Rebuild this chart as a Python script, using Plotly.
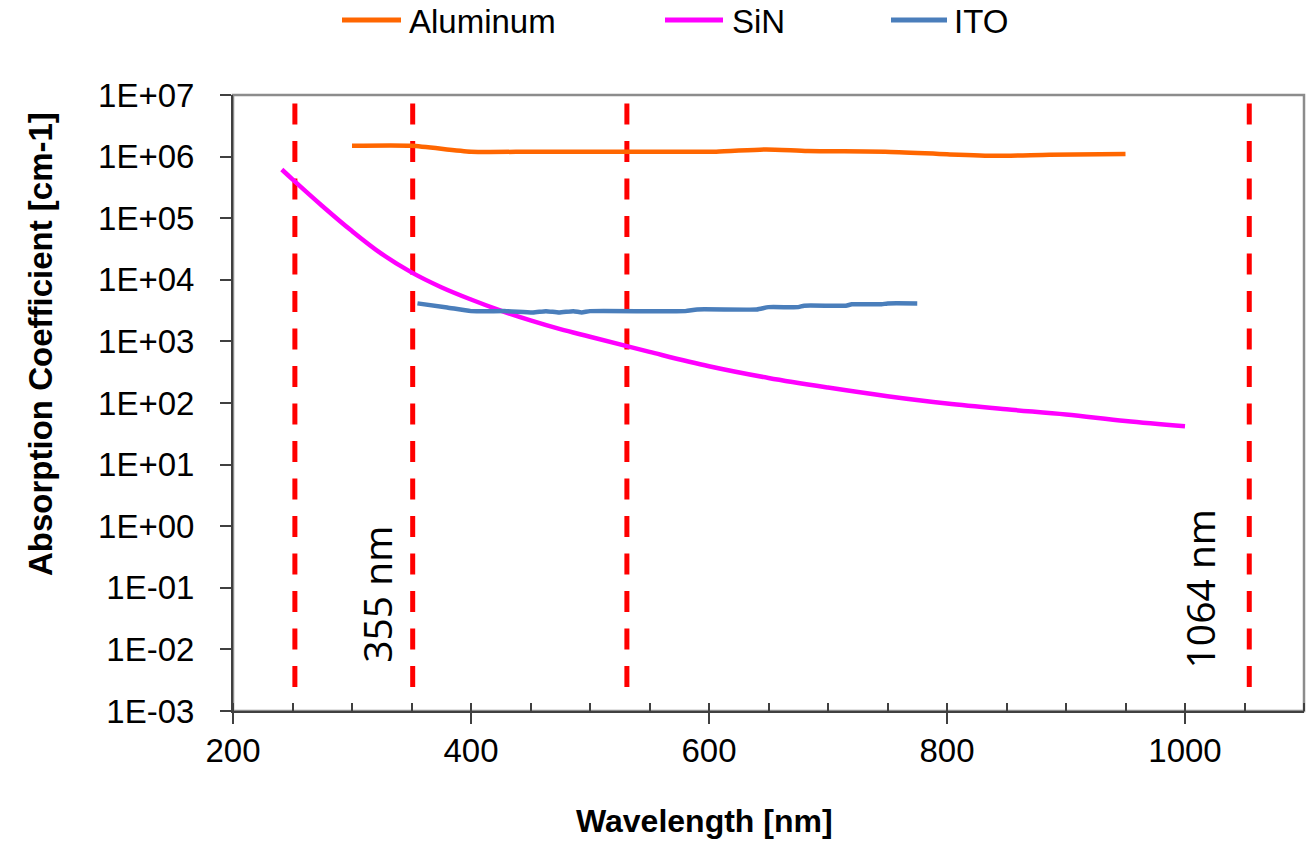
import math
import plotly.graph_objects as go

# ---------------- data ----------------
al_wl = [300, 350, 400, 450, 500, 550, 606, 648, 683, 748, 800, 841, 886, 950]
al_abs = [1.5e6, 1.5e6, 1.2e6, 1.2e6, 1.2e6, 1.2e6, 1.2e6, 1.31e6, 1.23e6, 1.2e6, 1.09e6, 1.03e6, 1.07e6, 1.1e6]

sin_wl = [241, 250, 275, 300, 325, 350, 375, 400, 425, 450, 475, 500, 550, 600, 650, 700,
          750, 800, 850, 900, 950, 1000]
sin_abs = [6.17e5, 4.27e5, 1.58e5, 6.17e4, 2.63e4, 1.32e4, 7.59e3, 4.79e3, 3.16e3, 2.19e3, 1.58e3, 1.19e3,
           676, 395, 255, 178, 129, 98, 79, 65, 51, 42]

ito_wl = [355, 380, 400, 430, 452, 463, 474, 486, 493, 500, 580, 590, 640, 650, 675, 680, 715, 720, 745, 750, 775]
ito_abs = [4.14e3, 3.56e3, 3.1e3, 3.1e3, 2.95e3, 3.1e3, 2.95e3, 3.1e3, 2.95e3, 3.1e3, 3.1e3, 3.3e3, 3.3e3,
           3.6e3, 3.6e3, 3.8e3, 3.8e3, 4.0e3, 4.0e3, 4.14e3, 4.14e3]

laser_wl = [252, 351, 531, 1054]
laser_top = 7.3e6
laser_bottom = 1.5e-3

series_names = ["Aluminum", "SiN", "ITO"]
series_colors = ["#FF6600", "#FF00FF", "#4A7EBB"]
series_smoothing = [0.6, 1.0, 0.5]

y_tickvals = [1e-3, 1e-2, 1e-1, 1e0, 1e1, 1e2, 1e3, 1e4, 1e5, 1e6, 1e7]
y_ticktext = ["1E-03", "1E-02", "1E-01", "1E+00", "1E+01", "1E+02", "1E+03", "1E+04", "1E+05", "1E+06", "1E+07"]
x_tickvals = [200, 400, 600, 800, 1000]

label_texts = ["355 nm", "1064 nm"]
label_x = [321, 1012]
label_y = [0.08, 0.095]  # in data units (log axis value)

FONT = "Liberation Sans, Arial, sans-serif"

fig = go.Figure()

# red dashed laser-wavelength lines
for wl in laser_wl:
    fig.add_trace(go.Scatter(
        x=[wl, wl], y=[laser_top, laser_bottom], mode="lines",
        line=dict(color="#FF0000", width=5, dash="21px,16.5px"),
        showlegend=False, hoverinfo="skip"))

for name, wl, ab, col, sm in zip(series_names, [al_wl, sin_wl, ito_wl], [al_abs, sin_abs, ito_abs],
                                 series_colors, series_smoothing):
    fig.add_trace(go.Scatter(
        x=wl, y=ab, mode="lines", name=name,
        line=dict(color=col, width=4.5, shape="spline", smoothing=sm),
        showlegend=False))

# plot frame (top/right grey)
fig.add_shape(type="rect", xref="paper", yref="paper", x0=0, x1=1, y0=0, y1=1,
              line=dict(color="#8C8C8C", width=2.5), layer="below")

# custom legend at top
plot_l, plot_r, plot_t, plot_b = 233, 1304, 95, 711
def px_x(p):
    return (p - plot_l) / (plot_r - plot_l)
def px_y(p):
    return (plot_b - p) / (plot_b - plot_t)

legend_line_px = [(342, 401), (665, 723), (891, 947)]
legend_text_px = [407, 730, 952]
for (a, b), tx, name, col in zip(legend_line_px, legend_text_px, series_names, series_colors):
    fig.add_shape(type="line", xref="paper", yref="paper", x0=px_x(a), x1=px_x(b),
                  y0=px_y(20), y1=px_y(20), line=dict(color=col, width=5))
    fig.add_annotation(xref="paper", yref="paper", x=px_x(tx), y=px_y(21), text=name,
                       showarrow=False, xanchor="left", yanchor="middle",
                       font=dict(family=FONT, size=33, color="#000000"))

# wavelength labels
for t, x, y in zip(label_texts, label_x, label_y):
    fig.add_annotation(x=x, y=math.log10(y), text=t, textangle=-90, showarrow=False,
                       xanchor="center", yanchor="middle",
                       font=dict(family="Open Sans, sans-serif", size=39, color="#000000"))

# axis titles
fig.add_annotation(xref="paper", yref="paper", x=px_x(704), y=px_y(821), text="<b>Wavelength [nm]</b>",
                   showarrow=False, xanchor="center", yanchor="middle", borderpad=0,
                   font=dict(family=FONT, size=32, color="#000000"))
fig.add_annotation(xref="paper", yref="paper", x=px_x(40), y=px_y(344),
                   text="<b>Absorption Coefficient [cm-1]</b>", textangle=-90,
                   showarrow=False, xanchor="center", yanchor="middle",
                   font=dict(family=FONT, size=33, color="#000000"))

fig.update_layout(
    width=1307, height=843,
    margin=dict(l=plot_l, r=1307 - plot_r, t=plot_t, b=843 - plot_b),
    paper_bgcolor="white", plot_bgcolor="white",
    font=dict(family=FONT, size=33, color="#000000"),
    showlegend=False,
    xaxis=dict(range=[200, 1100], tickvals=x_tickvals, ticks="outside", ticklen=11, tickwidth=1.5,
               tickcolor="#404040", showline=True, linecolor="#404040", linewidth=2,
               showgrid=False, zeroline=False, ticklabelstandoff=-2,
               minor=dict(dtick=50, tick0=200, ticks="inside", ticklen=8, tickwidth=1.5, tickcolor="#404040",
                          showgrid=False),
               tickfont=dict(family=FONT, size=33, color="#000000")),
    yaxis=dict(type="log", range=[-3, 7], tickvals=y_tickvals, ticktext=y_ticktext,
               ticks="outside", ticklen=11, tickwidth=1.5, tickcolor="#404040",
               showline=True, linecolor="#404040", linewidth=2,
               showgrid=False, zeroline=False, ticklabelstandoff=19,
               tickfont=dict(family=FONT, size=33, color="#000000")),
)

fig.write_html("out.html")
